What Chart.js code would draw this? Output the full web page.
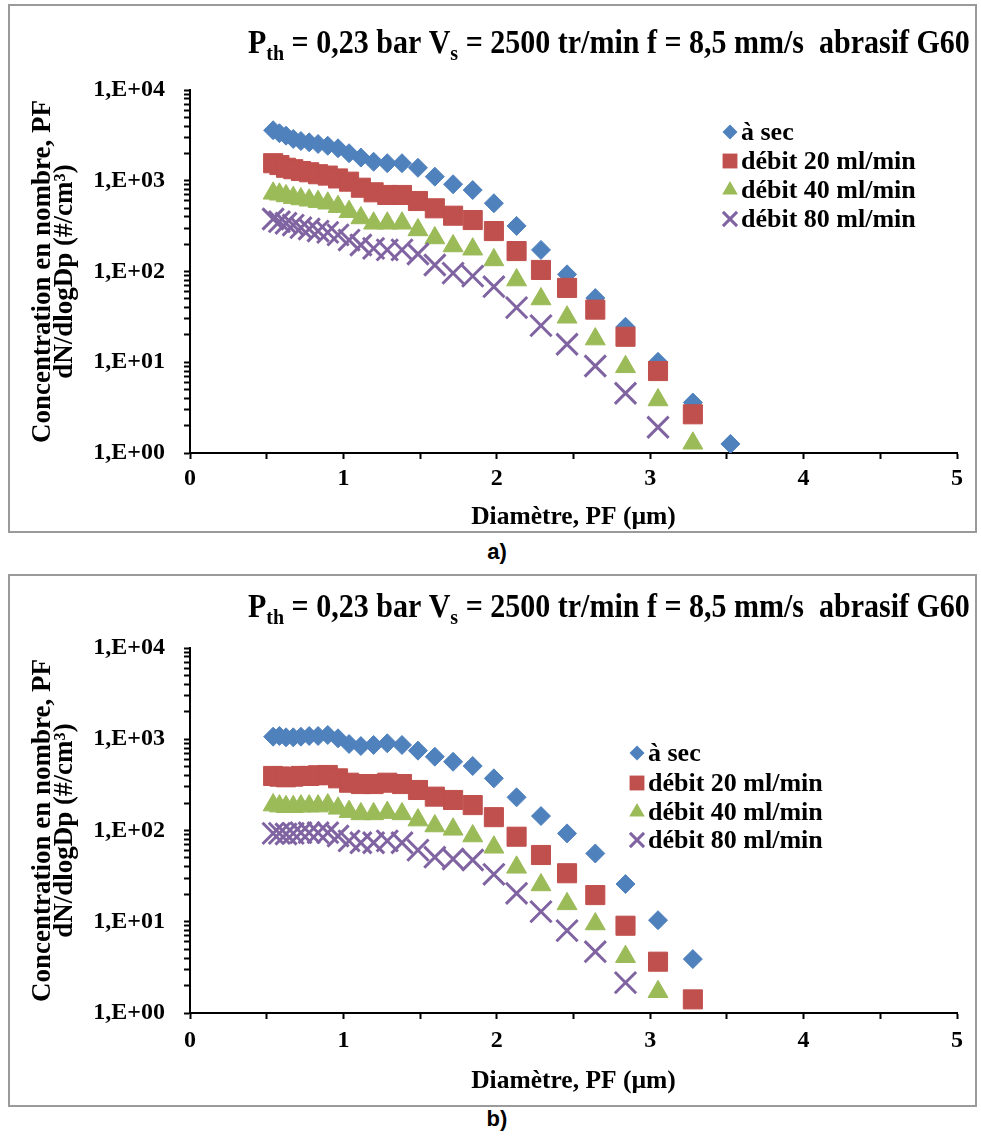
<!DOCTYPE html>
<html><head><meta charset="utf-8">
<script src="https://cdn.jsdelivr.net/npm/chart.js@4.4.1/dist/chart.umd.min.js"></script>
<style>
body{margin:0;background:#fff;width:981px;height:1139px;position:relative;overflow:hidden}
.box{position:absolute;left:8px;width:969px;border:2px solid #9a9a9a;box-sizing:border-box}
canvas{position:absolute;left:10px}
.lab{position:absolute;font:bold 22px "Liberation Sans",Arial,sans-serif;color:#000;line-height:22px;width:40px;text-align:center}
</style></head><body>
<div class="box" style="top:4px;height:529px"></div>
<canvas id="cA" width="965" height="525" style="top:6px;width:965px;height:525px"></canvas>
<div class="lab" id="labA" style="left:477px;top:541px"></div>
<div class="box" style="top:574px;height:533px"></div>
<canvas id="cB" width="965" height="529" style="top:576px;width:965px;height:529px"></canvas>
<div class="lab" id="labB" style="left:477px;top:1108px"></div>
<script>
// ---------- data ----------
const diameters = [0.542, 0.583, 0.626, 0.673, 0.723, 0.777, 0.835, 0.898, 0.965, 1.037, 1.114, 1.197, 1.286, 1.382, 1.486, 1.596, 1.715, 1.843, 1.981, 2.129, 2.288, 2.458, 2.642, 2.839, 3.051, 3.278, 3.523];
const seriesLabels = ['à sec', 'débit 20 ml/min', 'débit 40 ml/min', 'débit 80 ml/min'];
const xTickLabels = ['0', '1', '2', '3', '4', '5'];
const yTickLabels = ['1,E+00', '1,E+01', '1,E+02', '1,E+03', '1,E+04'];
const xAxisTitle = 'Diamètre, PF (µm)';
const yAxisTitle = ['Concentration en nombre, PF', 'dN/dlogDp (#/cm³)'];
const titleParts = [
  {text: 'P', sub: false}, {text: 'th', sub: true},
  {text: ' = 0,23 bar V', sub: false}, {text: 's', sub: true},
  {text: ' = 2500 tr/min f = 8,5 mm/s  abrasif G60', sub: false}
];
const panelLabels = ['a)', 'b)'];

// panel a)
const aSecA    = [3600, 3340, 3140, 2890, 2740, 2650, 2540, 2430, 2280, 2010, 1800, 1620, 1560, 1560, 1390, 1110, 915, 790, 565, 318, 173, 93, 51, 24.6, 10.1, 3.6, 1.26];
const debit20A = [1560, 1490, 1390, 1340, 1280, 1240, 1180, 1140, 1060, 977, 838, 746, 697, 697, 598, 497, 412, 369, 279, 168, 104, 66, 38, 19.1, 8.0, 2.67];
const debit40A = [727, 709, 680, 651, 629, 609, 588, 565, 518, 456, 389, 340, 340, 340, 287, 234, 191, 176, 134, 80.5, 49.8, 31.3, 18.0, 8.9, 3.84, 1.28];
const debit80A = [379, 354, 340, 325, 304, 294, 279, 270, 253, 222, 196, 180, 173, 173, 156, 118, 96, 89, 68, 40, 25.3, 15.8, 9.1, 4.55, 1.92];
// panel b)
const aSecB    = [1067, 1086, 1050, 1050, 1067, 1086, 1086, 1113, 1024, 887, 843, 865, 903, 865, 750, 644, 567, 509, 373, 231, 144, 93, 56, 25.9, 10.4, 3.9];
const debit20B = [396, 389, 383, 389, 396, 396, 403, 406, 373, 334, 323, 323, 334, 323, 278, 235, 216, 190, 140, 85.5, 53.9, 34, 19.6, 9.05, 3.65, 1.41];
const debit40B = [190, 185, 182, 182, 185, 185, 185, 190, 175, 161, 152, 152, 157, 152, 130, 112, 103, 87, 65.5, 39.5, 25.3, 15.7, 9.45, 4.14, 1.71];
const debit80B = [93, 93, 91.5, 93, 94.6, 94.6, 94.6, 94.6, 87, 77, 73.4, 73.4, 77, 73.4, 61, 51, 48.7, 47.5, 33.1, 20.5, 12.9, 8.0, 4.7, 2.15];

// ---------- styles ----------
const FONT = '"Liberation Serif", "Times New Roman", serif';
const markerStyles = [
  {pointStyle: 'rectRot', radius: 9.5, color: '#4F81BD', bw: 1, legR: 7.5},
  {pointStyle: 'rect', radius: 13.5, color: '#C0504D', bw: 1, legR: 10.5},
  {pointStyle: 'triangle', radius: 11.5, color: '#9BBB59', bw: 1, legR: 9},
  {pointStyle: 'crossRot', radius: 15, color: '#8064A2', bw: 3, legR: 10}
];

const yTickValues = [];
for (let e = 0; e < 4; e++) for (let m = 1; m < 10; m++) yTickValues.push(m * Math.pow(10, e));
yTickValues.push(10000);

function toPoints(vals) { return vals.map((v, i) => ({x: diameters[i], y: v})); }

function drawLegendMarker(ctx, st, x, y) {
  const r = st.legR;
  ctx.save();
  ctx.fillStyle = st.color; ctx.strokeStyle = st.color;
  ctx.beginPath();
  if (st.pointStyle === 'rectRot') {
    ctx.moveTo(x - r, y); ctx.lineTo(x, y - r); ctx.lineTo(x + r, y); ctx.lineTo(x, y + r); ctx.closePath(); ctx.fill();
  } else if (st.pointStyle === 'rect') {
    const h = r * Math.SQRT1_2; ctx.rect(x - h, y - h, 2 * h, 2 * h); ctx.fill();
  } else if (st.pointStyle === 'triangle') {
    ctx.moveTo(x, y - r); ctx.lineTo(x + 0.866 * r, y + 0.5 * r); ctx.lineTo(x - 0.866 * r, y + 0.5 * r); ctx.closePath(); ctx.fill();
  } else {
    const h = r * Math.SQRT1_2; ctx.lineWidth = 3;
    ctx.moveTo(x - h, y - h); ctx.lineTo(x + h, y + h); ctx.moveTo(x + h, y - h); ctx.lineTo(x - h, y + h); ctx.stroke();
  }
  ctx.restore();
}

function makeChart(canvasId, seriesValues, g) {
  const datasets = seriesValues.map((vals, i) => ({
    label: seriesLabels[i],
    data: toPoints(vals),
    showLine: false,
    pointStyle: markerStyles[i].pointStyle,
    pointRadius: markerStyles[i].radius,
    pointHoverRadius: markerStyles[i].radius,
    backgroundColor: markerStyles[i].color,
    borderColor: markerStyles[i].color,
    borderWidth: markerStyles[i].bw,
    order: 4 - i
  }));
  const overlay = {
    id: 'overlay',
    afterDraw(chart) {
      const ctx = chart.ctx;
      ctx.save();
      ctx.fillStyle = '#000';
      ctx.textBaseline = 'alphabetic';
      ctx.textAlign = 'left';
      // title with subscripts, slightly taller glyphs as in the reference
      ctx.save();
      ctx.translate(g.titleX, g.titleY);
      ctx.scale(1, 1.1);
      let x = 0;
      for (const p of titleParts) {
        ctx.font = p.sub ? 'bold 20px ' + FONT : 'bold 30px ' + FONT;
        ctx.fillText(p.text, x, p.sub ? 6 : 0);
        x += ctx.measureText(p.text).width;
      }
      ctx.restore();
      // legend
      ctx.font = 'bold 26px ' + FONT;
      ctx.textBaseline = 'middle';
      seriesLabels.forEach((lab, i) => {
        drawLegendMarker(ctx, markerStyles[i], g.legX, g.legY[i]);
        ctx.fillStyle = '#000';
        ctx.fillText(lab, g.legTextX, g.legY[i] + 1);
      });
      ctx.restore();
    }
  };
  const tickFont = {family: FONT, size: 24, weight: 'bold', lineHeight: 1.2};
  return new Chart(document.getElementById(canvasId), {
    type: 'scatter',
    data: {datasets},
    plugins: [overlay],
    options: {
      responsive: false,
      animation: false,
      events: [],
      layout: {padding: {top: g.top, right: g.right, left: 0, bottom: 0}},
      plugins: {legend: {display: false}, tooltip: {enabled: false}, title: {display: false}},
      scales: {
        x: {
          type: 'linear', position: 'bottom', min: 0, max: 5,
          afterFit: s => { s.height = g.xh; },
          ticks: {stepSize: 0.5, autoSkip: false, maxRotation: 0, color: '#000', font: tickFont, padding: g.xtp,
            callback: v => (Number.isInteger(v) ? xTickLabels[v] : '')},
          grid: {drawOnChartArea: false, drawTicks: true, tickLength: 6, tickColor: '#000', tickWidth: 2},
          border: {display: true, color: '#000', width: 2},
          title: {display: true, text: xAxisTitle, color: '#000', font: {family: FONT, size: 25.5, weight: 'bold', lineHeight: 1}, padding: {top: 0, bottom: g.xtb}}
        },
        y: {
          type: 'logarithmic', position: 'left', min: 1, max: 10000,
          afterFit: s => { s.width = g.left; },
          afterBuildTicks: s => { s.ticks = yTickValues.map(v => ({value: v})); },
          ticks: {autoSkip: false, color: '#000', font: tickFont, padding: 19,
            callback: v => { const e = Math.log10(v); const r = Math.round(e); return Math.abs(e - r) < 1e-6 ? yTickLabels[r] : ''; }},
          grid: {drawOnChartArea: false, drawTicks: true, tickLength: 6, tickColor: '#000', tickWidth: 2},
          border: {display: true, color: '#000', width: 2},
          title: {display: true, text: yAxisTitle, color: '#000', font: {family: FONT, size: 27, weight: 'bold', lineHeight: '22px'}, padding: {top: 22, bottom: 0}}
        }
      }
    }
  });
}

document.getElementById('labA').textContent = panelLabels[0];
document.getElementById('labB').textContent = panelLabels[1];

makeChart('cA', [aSecA, debit20A, debit40A, debit80A], {
  top: 84, right: 18, left: 180, xh: 78, xtp: 5, xtb: 1,
  titleX: 238, titleY: 47,
  legX: 720, legTextX: 731, legY: [126, 155, 184, 213]
});
makeChart('cB', [aSecB, debit20B, debit40B, debit80B], {
  top: 72, right: 18, left: 180, xh: 92, xtp: 7, xtb: 11,
  titleX: 238, titleY: 41,
  legX: 627, legTextX: 638, legY: [177, 207, 236, 264]
});
</script>
</body></html>
